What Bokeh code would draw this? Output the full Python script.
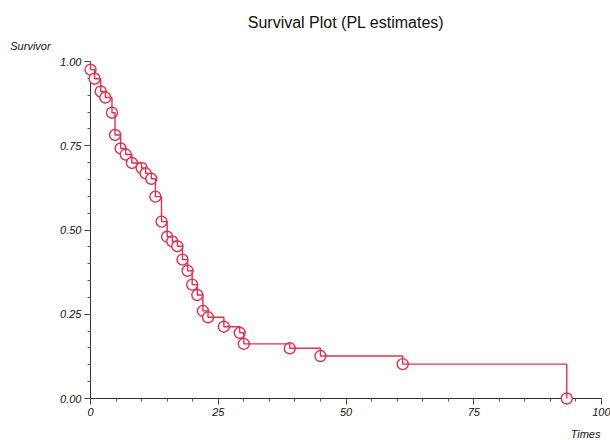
from bokeh.plotting import figure
from bokeh.models import Range1d, FixedTicker, NumeralTickFormatter
from bokeh.core.properties import value
from bokeh.embed import file_html
from bokeh.resources import INLINE

# Product-limit (Kaplan-Meier) estimates
times = [0, 0.8, 2, 2.9, 4.2, 4.8, 5.9, 6.9, 8.1, 10, 10.8, 11.9, 12.7, 13.9, 15,
         16, 17, 18, 19, 19.9, 20.9, 22, 23, 26.1, 29.2, 30, 39, 45, 61.1, 93.2]
survival = [0.976, 0.949, 0.911, 0.893, 0.848, 0.782, 0.742, 0.724, 0.699, 0.684,
            0.668, 0.652, 0.599, 0.525, 0.480, 0.466, 0.452, 0.412, 0.379, 0.338,
            0.307, 0.260, 0.241, 0.213, 0.195, 0.162, 0.149, 0.126, 0.102, 0.0]
x_ticks = [0, 25, 50, 75, 100]
y_ticks = [0.0, 0.25, 0.5, 0.75, 1.0]
title_text = "Survival Plot (PL estimates)"
y_title = "Survivor"
x_title = "Times"

step_x = [0] + times
step_y = [1.0] + survival

RED = "#e0304e"
FONT = "Liberation Sans"

p = figure(width=610, height=440, output_backend="svg", toolbar_location=None,
           x_range=Range1d(0, 100), y_range=Range1d(0, 1),
           min_border_left=90, min_border_right=9, min_border_top=61, min_border_bottom=42)

p.outline_line_color = None
p.grid.visible = False
p.background_fill_color = "white"

for ax in (p.xaxis[0], p.yaxis[0]):
    ax.axis_line_color = "#333333"
    ax.major_tick_line_color = "#333333"
    ax.minor_tick_line_color = "#555555"
    ax.major_tick_out = 6
    ax.major_tick_in = 0
    ax.minor_tick_out = 3
    ax.minor_tick_in = 0
    ax.major_label_text_font = FONT
    ax.major_label_text_font_style = "italic"
    ax.major_label_text_font_size = "11px"
    ax.major_label_text_color = "#111111"

p.xaxis.ticker = FixedTicker(ticks=x_ticks, minor_ticks=list(range(0, 101, 5)))
p.yaxis.ticker = FixedTicker(ticks=y_ticks, minor_ticks=[i * 0.05 for i in range(21)])
p.yaxis.formatter = NumeralTickFormatter(format="0.00")
p.xaxis.major_label_standoff = 3
p.yaxis.major_label_standoff = 3

p.scatter(times, survival, marker="circle", size=11, fill_color="white",
          line_color=RED, line_width=1.4, level="overlay")
p.step(step_x, step_y, mode="after", line_color=RED, line_width=1.4, level="overlay")

# Titles as text placed outside the frame (drawn on the overlay level, not clipped)
p.text(x=[50], y=[1.116], text=[title_text], text_font=value(FONT),
       text_font_size="16px", text_align="center", text_baseline="middle",
       text_color="#111111", level="overlay")
p.text(x=[-15.7], y=[1.047], text=[y_title], text_font=value(FONT),
       text_font_style="italic", text_font_size="11px", text_align="left",
       text_baseline="middle", text_color="#111111", level="overlay")
p.text(x=[99.8], y=[-0.104], text=[x_title], text_font=value(FONT),
       text_font_style="italic", text_font_size="11px", text_align="right",
       text_baseline="middle", text_color="#111111", level="overlay")

open("out.html", "w").write(file_html(p, INLINE))
